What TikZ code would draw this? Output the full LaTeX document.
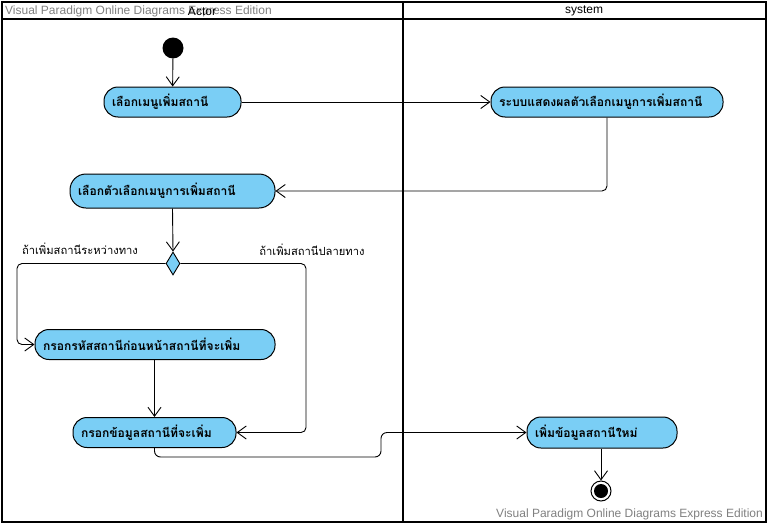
\documentclass[tikz,border=0pt]{standalone}
\usepackage{fontspec}
\setmainfont{Liberation Sans}
\newfontfamily\thaifont[Script=Thai]{Loma}
\usetikzlibrary{arrows.meta,shapes.geometric}
\definecolor{actfill}{RGB}{122,206,245}
\definecolor{wmgray}{RGB}{128,128,128}
\tikzset{
  act/.style={draw, line width=1pt, fill=actfill, rounded corners=14pt,
    minimum height=30pt, inner ysep=0pt, inner xsep=8pt, align=left,
    font=\thaifont\bfseries\fontsize{12.1}{15}\selectfont},
  flow/.style={line width=0.9pt, -{Straight Barb[length=9pt,width=13pt,line width=0.9pt]}},
  guard/.style={font=\thaifont\fontsize{11.2}{13}\selectfont},
  lane/.style={line width=2pt},
  wmark/.style={text=wmgray, font=\fontsize{12}{14}\selectfont, inner sep=0pt},
  hdr/.style={font=\fontsize{12}{14}\selectfont, inner sep=0pt}
}
\begin{document}
\begin{tikzpicture}[x=1pt,y=-1pt]
\useasboundingbox (0,0) rectangle (768,525);
% swimlane frame
\draw[lane] (2,2) rectangle (766,522);
\draw[lane] (2,19) -- (766,19);
\draw[lane] (403,2) -- (403,522);
\node[wmark, anchor=west] (wmtop) at (5,11) {Visual Paradigm Online Diagrams Express Edition};
\node[hdr] (actor) at (202,11) {Actor};
\node[hdr] (system) at (584,11) {system};
\node[wmark, anchor=east] (wmbot) at (763,514) {Visual Paradigm Online Diagrams Express Edition};

% activities
\node[circle, fill=black, minimum size=21pt, inner sep=0pt] (start) at (173,48) {};
\node[act, text width=121pt] (a1) at (172.5,102) {เลือกเมนูเพิ่มสถานี};
\node[act, text width=216pt] (a2) at (607,102) {ระบบแสดงผลตัวเลือกเมนูการเพิ่มสถานี};
\node[act, text width=189pt, minimum height=34pt, rounded corners=16pt] (a3) at (172.5,191) {เลือกตัวเลือกเมนูการเพิ่มสถานี};
\node[diamond, draw, line width=0.9pt, fill=actfill, minimum width=14pt, minimum height=23pt, inner sep=0pt] (dec) at (173,263.5) {};
\node[act, text width=224pt] (a4) at (155,344.5) {กรอกรหัสสถานีก่อนหน้าสถานีที่จะเพิ่ม};
\node[act, text width=147pt] (a5) at (154.5,432.5) {กรอกข้อมูลสถานีที่จะเพิ่ม};
\node[act, text width=134pt, minimum height=31pt] (a6) at (602,432.5) {เพิ่มข้อมูลสถานีใหม่};
\node[circle, draw, line width=1pt, minimum size=20pt, inner sep=0pt] (end) at (601,491) {};
\fill (end.center) circle (7pt);

% guards
\node[guard] (g1) at (80,249) {ถ้าเพิ่มสถานีระหว่างทาง};
\node[guard] (g2) at (312,250) {ถ้าเพิ่มสถานีปลายทาง};

% flows
\draw[flow] (start) -- (a1);
\draw[flow] (a1) -- (a2);
\draw[flow, rounded corners=5pt] (a2.south) |- (a3.east);
\draw[flow] (a3.south) -- (dec.north);
\draw[flow, rounded corners=5pt] (dec.west) -- (17,263.5) -- (17,344.5) -- (a4.west);
\draw[flow, rounded corners=5pt] (dec.east) -- (306,263.5) -- (306,432.5) -- (a5.east);
\draw[flow] (a4.south -| a5.north) -- (a5.north);
\draw[flow, rounded corners=6pt] (a5.south) -- (154.5,457) -- (381,457) -- (381,432.5) -- (a6.west);
\draw[flow] (a6.south -| end.north) -- (end.north);
\end{tikzpicture}
\end{document}
